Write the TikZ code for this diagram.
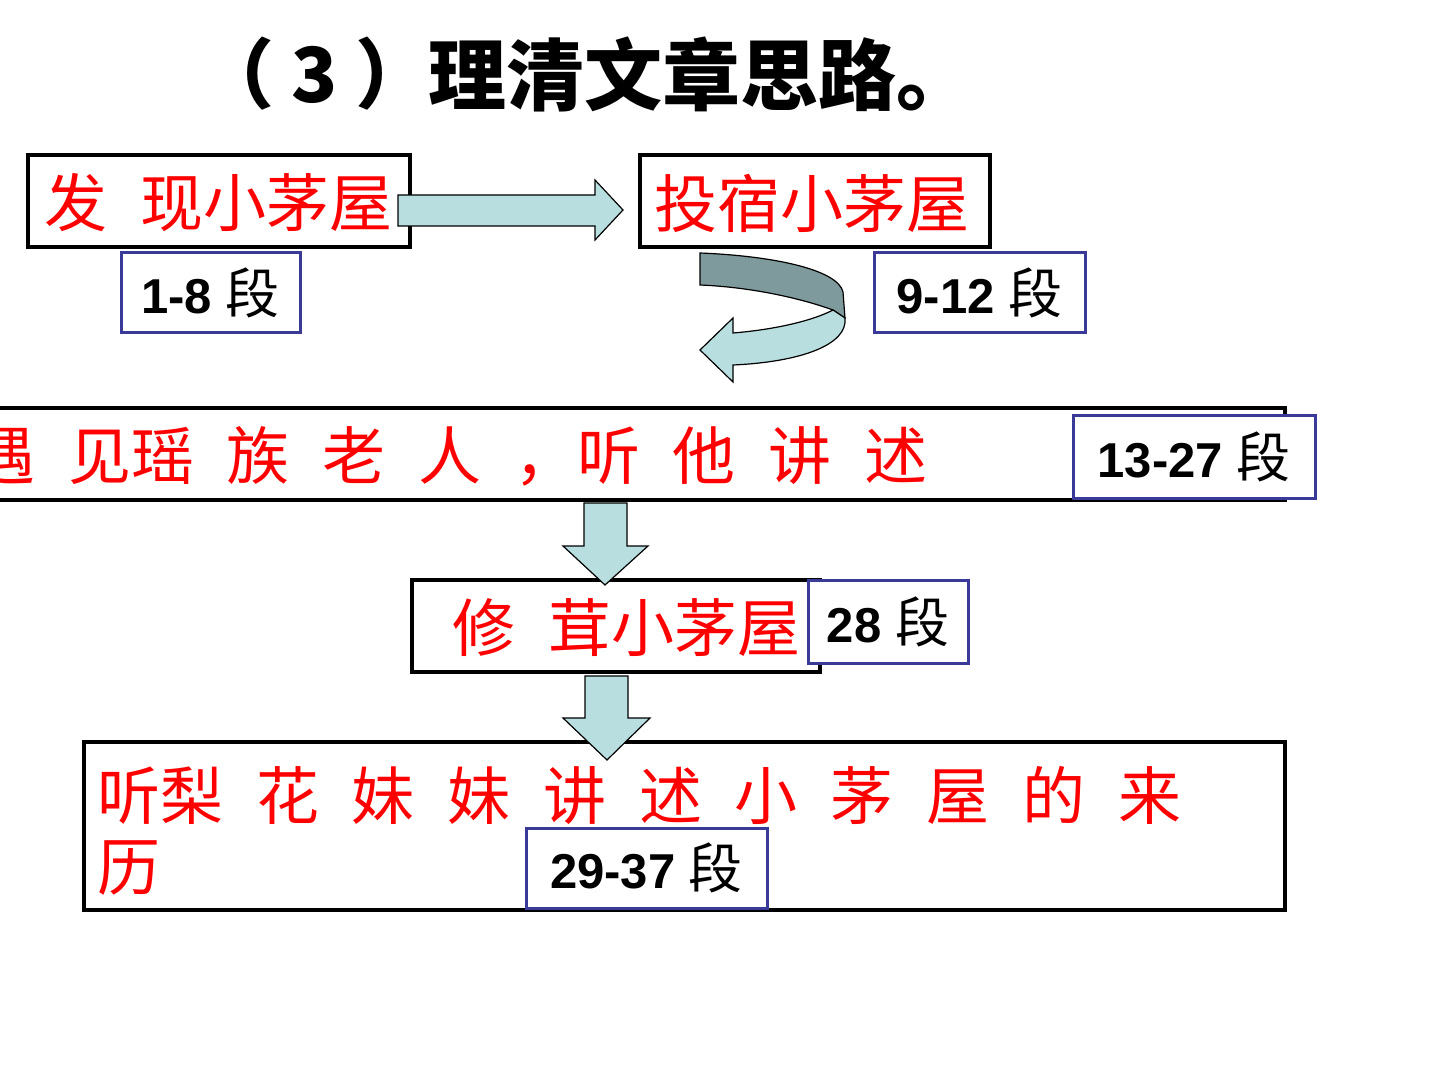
\documentclass[tikz,border=0pt]{standalone}
\usepackage{fontspec}
\setmainfont{Liberation Sans}
\newfontfamily\cjk{Noto Sans CJK SC}
\definecolor{labblue}{HTML}{3A3A98}
\definecolor{arrlight}{HTML}{B8DEE0}
\definecolor{arrdark}{HTML}{7F9A9C}
\newcommand\gp{\hspace{0.52em}}
\newcommand\dn{{\cjk\mdseries\fontsize{27}{27}\selectfont 段}}
\begin{document}
\begin{tikzpicture}[x=0.5pt,y=-0.5pt,
  box/.style={draw=black, line width=1.6pt, fill=white, inner sep=0pt},
  labbox/.style={draw=labblue, line width=1.5pt, fill=white, inner sep=0pt,
     font=\fontsize{24.5}{25}\selectfont\bfseries},
  redtxt/.style={text=red, inner sep=0pt, font=\cjk\fontsize{31.5}{32}\selectfont},
  blockarrow/.style={fill=arrlight, draw=black, line width=0.6pt, line join=miter},
]
\useasboundingbox (0,0) rectangle (1440,1080);
\clip (0,0) rectangle (1440,1080);
\fill[white] (0,0) rectangle (1440,1080);

% title
\node[anchor=east, inner sep=0pt, font=\cjk\bfseries\fontsize{38}{40}\selectfont] (t1) at (432,74) {（ 3 ）};
\node[anchor=west, inner sep=0pt, font=\cjk\bfseries\fontsize{39}{40}\selectfont] (t2) at (428,74) {理清文章思路。};

% boxes
\node[box, minimum width=191pt, minimum height=46pt] (b1) at (219,201) {};
\node[box, minimum width=175pt, minimum height=46pt] (b2) at (815,201) {};
\node[box, minimum width=672.5pt, minimum height=46pt] (b3) at (612.5,454) {};
\node[box, minimum width=204pt, minimum height=46pt] (b4) at (616,626) {};
\node[box, minimum width=600.5pt, minimum height=84pt] (b5) at (684.5,826) {};

% texts
\node[redtxt, anchor=west] (x1) at (44,203) {发\gp 现小茅屋};
\node[redtxt, anchor=west] (x2) at (654,203) {投宿小茅屋};
\node[redtxt, anchor=west] (x3) at (-28,456) {遇\gp 见瑶\gp 族\gp 老\gp 人\gp ，听\gp 他\gp 讲\gp 述};
\node[redtxt, anchor=west] (x4) at (452,628) {修\gp 茸小茅屋};
\node[redtxt, anchor=west] (x5) at (97,795) {听梨\gp 花\gp 妹\gp 妹\gp 讲\gp 述\gp 小\gp 茅\gp 屋\gp 的\gp 来};
\node[redtxt, anchor=west] (x6) at (97,868) {历};

% right arrow
\draw[blockarrow] (398,195) -- (595,195) -- (595,180) -- (623,210) -- (595,240) -- (595,226) -- (398,226) -- cycle;

% curved arrow
\draw[fill=arrdark, draw=black, line width=0.6pt] (700,253) .. controls (775,256) and (838,270) .. (843,292) -- (845,318) -- (833,310) .. controls (800,298) and (750,287) .. (700,285) -- cycle;
\draw[fill=arrlight, draw=black, line width=0.6pt] (833,310) .. controls (810,322) and (770,330) .. (733,333) -- (733,318) -- (700,350) -- (733,382) -- (733,365) .. controls (800,362) and (848,345) .. (845,318) -- cycle;

% down arrows
\draw[blockarrow] (584,503) -- (627,503) -- (627,546) -- (648,546) -- (605,585) -- (563,546) -- (584,546) -- cycle;
\draw[blockarrow] (585,676) -- (628,676) -- (628,718) -- (650,718) -- (607,760) -- (563,718) -- (585,718) -- cycle;

% labels
\node[labbox, minimum width=89.5pt, minimum height=40pt] (l1) at (210.5,293) {1-8 \dn};
\node[labbox, minimum width=105.5pt, minimum height=40pt] (l2) at (979.5,293) {9-12 \dn};
\node[labbox, minimum width=121pt, minimum height=41pt] (l3) at (1194,457) {13-27 \dn};
\node[labbox, minimum width=80pt, minimum height=41.5pt] (l4) at (888,621.5) {28 \dn};
\node[labbox, minimum width=120.5pt, minimum height=40pt] (l5) at (646.5,868) {29-37 \dn};
\end{tikzpicture}
\end{document}
